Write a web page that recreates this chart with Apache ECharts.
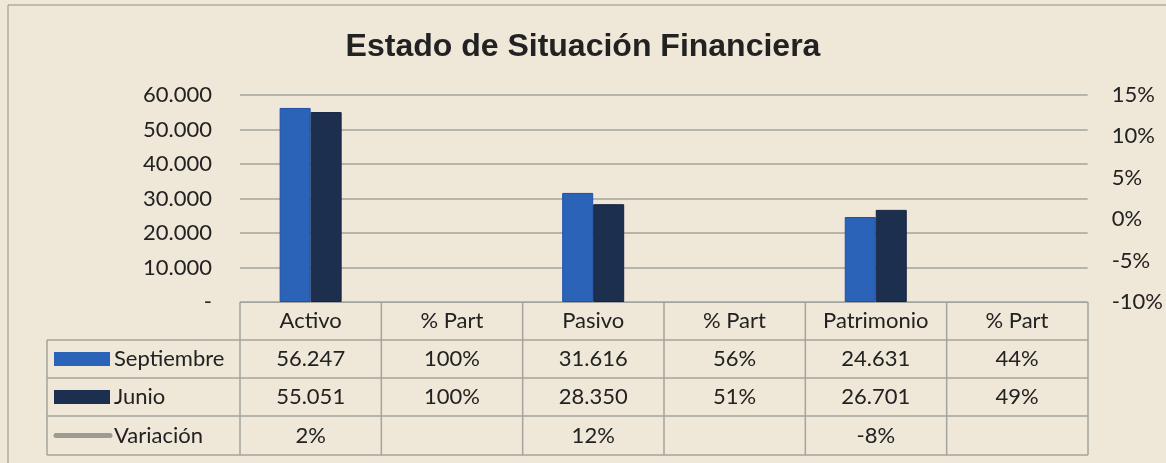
<!DOCTYPE html>
<html>
<head>
<meta charset="utf-8">
<script src="https://cdn.jsdelivr.net/npm/echarts@6/dist/echarts.min.js"></script>
<style>
  html, body { margin: 0; padding: 0; background: #efe7d7; }
  #main { width: 1166px; height: 463px; }
</style>
</head>
<body>
<div id="main"></div>
<script>
// categorias del eje x
var categorias = ["Activo", "% Part", "Pasivo", "% Part", "Patrimonio", "% Part"];
// series (las columnas % Part no llevan barra)
var septiembre = [56247, null, 31616, null, 24631, null];
var junio = [55051, null, 28350, null, 26701, null];
var variacion = [0.02, null, 0.12, null, -0.08, null];
// textos de la tabla de datos
var filaSeptiembre = ["56.247", "100%", "31.616", "56%", "24.631", "44%"];
var filaJunio = ["55.051", "100%", "28.350", "51%", "26.701", "49%"];
var filaVariacion = ["2%", "", "12%", "", "-8%", ""];
var nombres = ["Septiembre", "Junio", "Variación"];

var azul = "#2b63b8";
var marino = "#1d2f4e";
var gris = "#9c9c90";
var linea = "#a3a49e";
var texto = "#222222";
var fuente = "Lato";

var myChart = echarts.init(document.getElementById("main"));

function miles(v) {
  if (v === 0) return "-";
  return (v / 1000).toFixed(0) + ".000";
}

myChart.setOption({
  backgroundColor: "#efe7d7",
  animation: false,
  title: {
    text: "Estado de Situación Financiera",
    left: "center",
    top: 26,
    textStyle: { fontFamily: "Liberation Sans", fontSize: 32, fontWeight: "bold", color: texto }
  },
  grid: { left: 240, right: 78, top: 95, bottom: 161 },
  xAxis: {
    type: "category",
    data: categorias,
    axisLine: { show: true, lineStyle: { color: linea } },
    axisTick: { show: false },
    axisLabel: { margin: 8, fontFamily: fuente, fontSize: 22, color: texto }
  },
  yAxis: [
    {
      type: "value",
      min: 0,
      max: 60000,
      interval: 10000,
      axisLine: { show: false },
      axisTick: { show: false },
      splitLine: { lineStyle: { color: linea, width: 1.5 } },
      axisLabel: { margin: 28, fontFamily: fuente, fontSize: 22, color: texto, formatter: miles }
    },
    {
      type: "value",
      min: -0.1,
      max: 0.15,
      interval: 0.05,
      axisLine: { show: false },
      axisTick: { show: false },
      splitLine: { show: false },
      axisLabel: {
        margin: 24, fontFamily: fuente, fontSize: 22, color: texto,
        formatter: function (v) { return Math.round(v * 100) + "%"; }
      }
    }
  ],
  series: [
    {
      name: nombres[0], type: "bar", data: septiembre,
      barWidth: 31, barGap: "0%",
      itemStyle: { color: azul, borderColor: "#1f4fa8", borderWidth: 1 }
    },
    {
      name: nombres[1], type: "bar", data: junio,
      barWidth: 31,
      itemStyle: { color: marino, borderColor: "#142340", borderWidth: 1 }
    },
    {
      name: nombres[2], type: "line", yAxisIndex: 1, data: variacion,
      showSymbol: false, connectNulls: false,
      lineStyle: { color: gris, width: 4 }
    }
  ]
});

// tabla de datos debajo del grafico
function dibujarTabla() {
  var izq = 240, der = 1166 - 78;
  var ancho = (der - izq) / categorias.length;
  var y0 = 302;
  var filas = [340, 378, 416, 455];
  var leyIzq = 47;
  var g = [];
  var estilo = { stroke: linea, lineWidth: 1.5 };

  // lineas horizontales
  filas.forEach(function (y) {
    g.push({ type: "line", shape: { x1: leyIzq, y1: y, x2: der, y2: y }, style: estilo, silent: true });
  });
  // lineas verticales
  for (var i = 0; i <= categorias.length; i++) {
    var x = izq + i * ancho;
    g.push({ type: "line", shape: { x1: x, y1: y0, x2: x, y2: filas[3] }, style: estilo, silent: true });
  }
  g.push({ type: "line", shape: { x1: leyIzq, y1: filas[0], x2: leyIzq, y2: filas[3] }, style: estilo, silent: true });

  var datos = [filaSeptiembre, filaJunio, filaVariacion];
  datos.forEach(function (fila, r) {
    var yc = (filas[r] + filas[r + 1]) / 2;
    fila.forEach(function (t, c) {
      var xc = myChart.convertToPixel({ xAxisIndex: 0 }, c);
      g.push({
        type: "text", x: xc, y: yc, silent: true,
        style: { text: t, fill: texto, font: "22px " + fuente, textAlign: "center", textVerticalAlign: "middle" }
      });
    });
    // clave de leyenda
    if (r < 2) {
      g.push({
        type: "rect", silent: true,
        shape: { x: 54, y: yc - 7, width: 56, height: 14 },
        style: { fill: r === 0 ? azul : marino }
      });
    } else {
      g.push({
        type: "line", silent: true,
        shape: { x1: 56, y1: yc, x2: 110, y2: yc },
        style: { stroke: gris, lineWidth: 5, lineCap: "round" }
      });
    }
    g.push({
      type: "text", x: 114, y: yc, silent: true,
      style: { text: nombres[r], fill: texto, font: "22px " + fuente, textAlign: "left", textVerticalAlign: "middle" }
    });
  });

  // marco del grafico
  g.push({
    type: "rect", silent: true,
    shape: { x: 8, y: 5, width: 1170, height: 470 },
    style: { fill: "none", stroke: "#8f8f88", lineWidth: 1 }
  });

  myChart.setOption({ graphic: g });
}
dibujarTabla();

window.addEventListener("resize", function () {
  myChart.resize();
});
</script>
</body>
</html>
